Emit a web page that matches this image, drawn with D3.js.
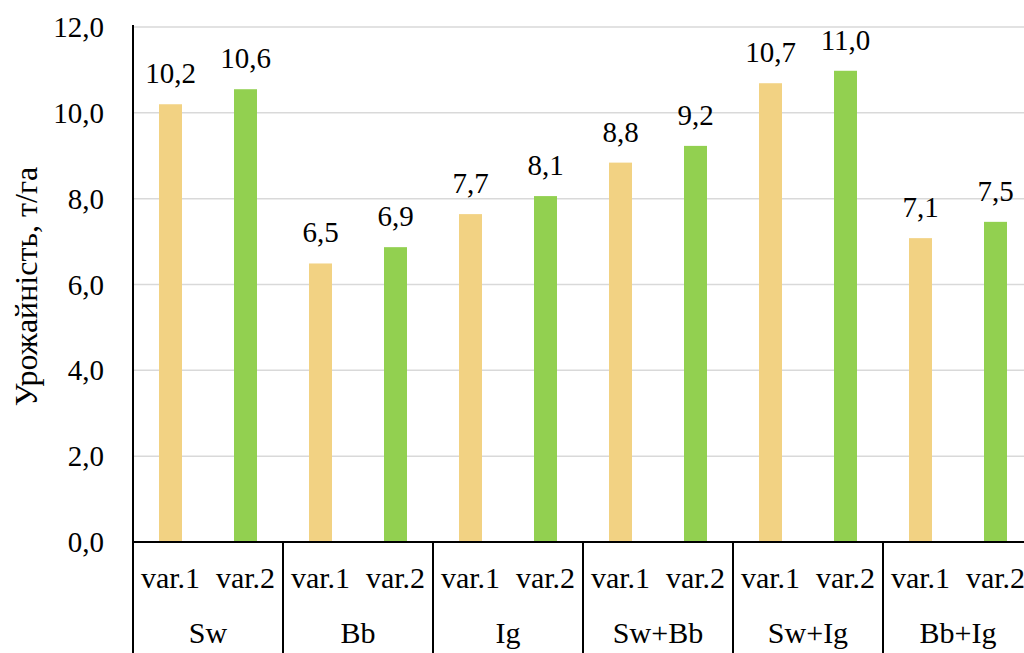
<!DOCTYPE html>
<html><head><meta charset="utf-8">
<script src="https://cdn.jsdelivr.net/npm/d3@7"></script>
<style>html,body{margin:0;padding:0;background:#fff;overflow:hidden}</style>
</head><body>
<svg id="chart" width="1024" height="653"></svg>
<script>
const groups = ["Sw", "Bb", "Ig", "Sw+Bb", "Sw+Ig", "Bb+Ig"];
const seriesNames = ["var.1", "var.2"];
const var1Values = [10.2, 6.49, 7.64, 8.84, 10.69, 7.08];
const var2Values = [10.55, 6.87, 8.06, 9.23, 10.98, 7.46];
const var1Labels = ["10,2", "6,5", "7,7", "8,8", "10,7", "7,1"];
const var2Labels = ["10,6", "6,9", "8,1", "9,2", "11,0", "7,5"];
const yTicks = [0, 2, 4, 6, 8, 10, 12];
const yTickLabels = ["0,0", "2,0", "4,0", "6,0", "8,0", "10,0", "12,0"];
const yTitle = "Урожайність, т/га";
const colors = ["#F2D283", "#92D050"];

const svg = d3.select("#chart");
const FONT = '"Tinos", "Times New Roman", "Liberation Serif"';
const fsNum = 29, fsCat = 30, fsTitle = 32;
const plotLeft = 133, plotBottom = 542, plotTop = 27, W = 1024, H = 653;

const y = d3.scaleLinear().domain([0, 12]).range([plotBottom, plotTop]);
const x0 = d3.scaleBand().domain(groups).range([plotLeft, plotLeft + 150 * groups.length]).padding(0);
const x1 = d3.scaleBand().domain(seriesNames).range([0, x0.bandwidth()]).padding(0);
const barW = 23;

// gridlines
svg.append("g").selectAll("line").data(yTicks.filter(d => d > 0)).join("line")
  .attr("x1", plotLeft).attr("x2", W).attr("y1", d => y(d)).attr("y2", d => y(d))
  .attr("stroke", "#d9d9d9").attr("stroke-width", 1.5);

// tick labels
svg.append("g").selectAll("text").data(yTicks).join("text")
  .attr("x", 104).attr("y", d => y(d)).attr("dy", "0.35em")
  .attr("text-anchor", "end")
  .style("font-family", FONT).style("font-size", fsNum + "px")
  .attr("fill", "#000").text((d, i) => yTickLabels[i]);

// y title
svg.append("text")
  .attr("transform", `translate(37,${(plotTop + plotBottom) / 2 + 2}) rotate(-90)`)
  .attr("text-anchor", "middle")
  .style("font-family", FONT).style("font-size", fsTitle + "px")
  .attr("fill", "#000").text(yTitle);

// bars
const data = groups.map((g, i) => ({
  g, vals: [
    { s: seriesNames[0], v: var1Values[i], l: var1Labels[i], c: colors[0] },
    { s: seriesNames[1], v: var2Values[i], l: var2Labels[i], c: colors[1] }
  ]
}));
const gG = svg.append("g").selectAll("g").data(data).join("g")
  .attr("transform", d => `translate(${x0(d.g)},0)`);
gG.selectAll("rect").data(d => d.vals).join("rect")
  .attr("x", d => x1(d.s) + x1.bandwidth() / 2 - barW / 2)
  .attr("width", barW)
  .attr("y", d => y(d.v)).attr("height", d => plotBottom - y(d.v))
  .attr("fill", d => d.c);
gG.selectAll("text.lbl").data(d => d.vals).join("text").attr("class", "lbl")
  .attr("x", d => x1(d.s) + x1.bandwidth() / 2)
  .attr("y", d => y(d.v) - 21)
  .attr("text-anchor", "middle")
  .style("font-family", FONT).style("font-size", fsNum + "px")
  .attr("fill", "#000").text(d => d.l);

// series labels under axis
gG.selectAll("text.ser").data(d => d.vals).join("text").attr("class", "ser")
  .attr("x", d => x1(d.s) + x1.bandwidth() / 2)
  .attr("y", 588)
  .attr("text-anchor", "middle")
  .style("font-family", FONT).style("font-size", fsCat + "px")
  .attr("fill", "#000").text(d => d.s);
gG.append("text")
  .attr("x", x0.bandwidth() / 2).attr("y", 643)
  .attr("text-anchor", "middle")
  .style("font-family", FONT).style("font-size", fsCat + "px")
  .attr("fill", "#000").text(d => d.g);

// axes lines
svg.append("line").attr("x1", plotLeft).attr("x2", plotLeft).attr("y1", plotTop - 2).attr("y2", H)
  .attr("stroke", "#000").attr("stroke-width", 2);
svg.append("line").attr("x1", plotLeft).attr("x2", W).attr("y1", plotBottom).attr("y2", plotBottom)
  .attr("stroke", "#000").attr("stroke-width", 2);
svg.append("g").selectAll("line").data(groups.slice(1)).join("line")
  .attr("x1", d => x0(d)).attr("x2", d => x0(d)).attr("y1", plotBottom).attr("y2", H)
  .attr("stroke", "#000").attr("stroke-width", 2);
</script>
</body></html>
